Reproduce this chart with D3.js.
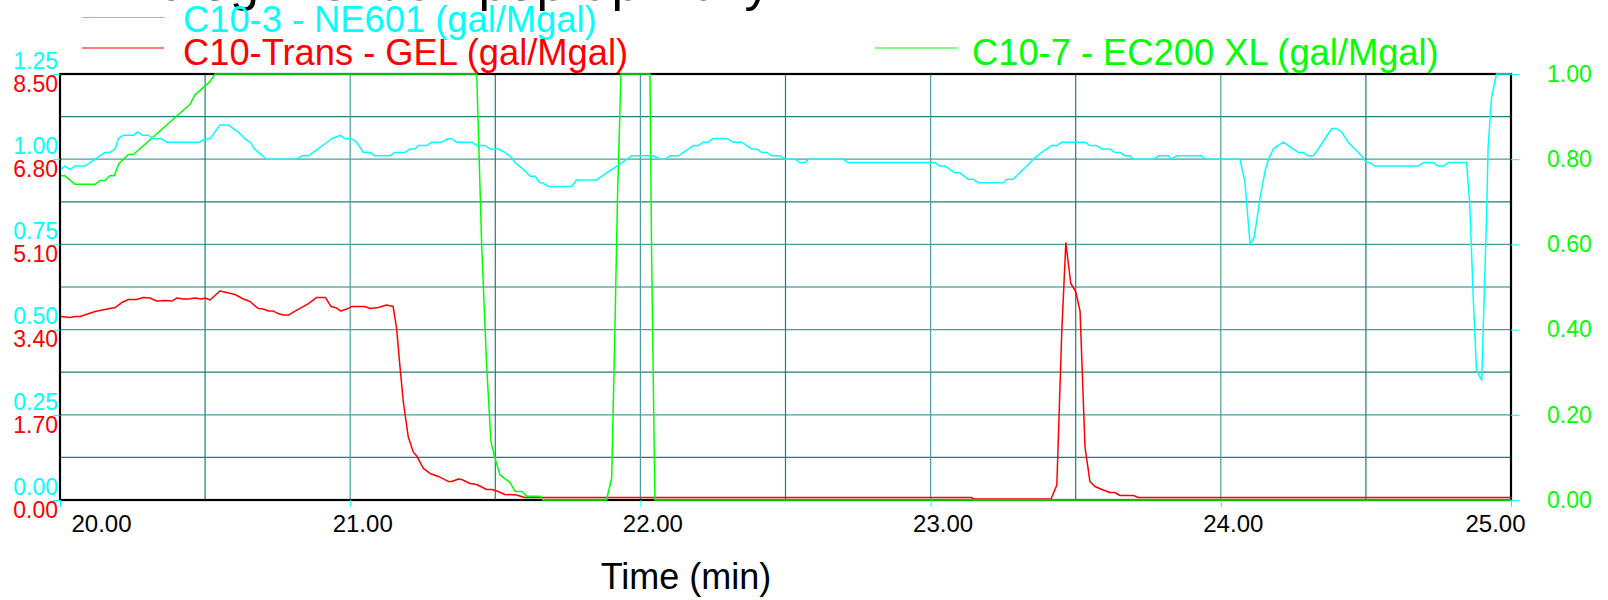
<!DOCTYPE html>
<html>
<head>
<meta charset="utf-8">
<script src="https://cdn.jsdelivr.net/npm/d3@7/dist/d3.min.js"></script>
<style>
  html, body { margin: 0; padding: 0; background: #fff; }
  svg { display: block; font-family: "Liberation Sans", Arial, sans-serif; }
</style>
</head>
<body>
<svg id="chart" width="1608" height="600"></svg>
<script>
// ---------------- DATA ----------------
const titleText = "Analog Trends - pop-up Daily";
const xLabel = "Time (min)";
const seriesNames = ["C10-3 - NE601 (gal/Mgal)", "C10-Trans - GEL (gal/Mgal)", "C10-7 - EC200 XL (gal/Mgal)"];

const xTicks = [20, 21, 22, 23, 24, 25];
const cyanTicks = [0, 0.25, 0.5, 0.75, 1.0, 1.25];
const redTicks = [0, 1.7, 3.4, 5.1, 6.8, 8.5];
const greenTicks = [0, 0.2, 0.4, 0.6, 0.8, 1.0];

// C10-3 - NE601 (cyan, left outer axis 0-1.25)
const cyanTime = [20.003,20.017,20.034,20.052,20.086,20.121,20.155,20.172,20.190,20.201,20.218,20.253,20.268,20.284,20.305,20.322,20.350,20.368,20.482,20.500,20.517,20.551,20.580,20.614,20.637,20.655,20.672,20.712,20.816,20.833,20.856,20.936,20.965,20.982,21.005,21.022,21.045,21.068,21.085,21.137,21.154,21.189,21.206,21.223,21.235,21.264,21.281,21.315,21.338,21.350,21.367,21.419,21.436,21.465,21.482,21.510,21.533,21.556,21.568,21.597,21.620,21.637,21.654,21.665,21.683,21.763,21.780,21.849,21.970,22.044,22.068,22.085,22.102,22.131,22.182,22.200,22.217,22.234,22.251,22.297,22.320,22.349,22.383,22.401,22.418,22.435,22.452,22.481,22.498,22.533,22.550,22.567,22.579,22.699,22.716,23.015,23.032,23.050,23.084,23.101,23.130,23.147,23.164,23.251,23.262,23.285,23.302,23.325,23.331,23.354,23.383,23.417,23.435,23.452,23.532,23.549,23.572,23.590,23.618,23.635,23.653,23.670,23.687,23.699,23.768,23.785,23.819,23.831,23.848,23.934,23.946,24.066,24.083,24.101,24.115,24.135,24.152,24.164,24.181,24.215,24.267,24.284,24.301,24.319,24.336,24.359,24.382,24.399,24.416,24.439,24.462,24.485,24.502,24.514,24.531,24.680,24.698,24.732,24.749,24.767,24.784,24.847,24.858,24.870,24.881,24.899,24.904,24.916,24.921,24.933,24.950,25.000];
const cyanValue = [0.970,0.980,0.970,0.980,0.980,1.000,1.020,1.020,1.030,1.061,1.070,1.070,1.080,1.070,1.070,1.060,1.060,1.050,1.050,1.060,1.060,1.100,1.100,1.080,1.060,1.050,1.029,1.000,1.000,1.010,1.010,1.060,1.070,1.060,1.060,1.050,1.020,1.020,1.010,1.010,1.020,1.020,1.030,1.030,1.040,1.040,1.050,1.050,1.060,1.060,1.050,1.050,1.040,1.040,1.030,1.030,1.020,1.005,0.990,0.970,0.950,0.950,0.931,0.930,0.920,0.920,0.939,0.939,1.010,1.010,1.000,1.000,1.010,1.010,1.040,1.040,1.050,1.050,1.061,1.061,1.050,1.050,1.030,1.030,1.020,1.020,1.010,1.010,1.000,1.000,0.990,0.990,1.000,1.000,0.990,0.990,0.980,0.980,0.960,0.960,0.941,0.941,0.931,0.931,0.941,0.941,0.956,0.975,0.980,1.000,1.020,1.040,1.040,1.050,1.050,1.040,1.040,1.030,1.030,1.020,1.020,1.010,1.010,1.000,1.000,1.010,1.010,1.000,1.010,1.010,1.000,1.000,0.934,0.750,0.770,0.885,0.963,1.000,1.030,1.050,1.020,1.020,1.010,1.010,1.030,1.060,1.090,1.090,1.080,1.050,1.030,1.010,0.990,0.990,0.980,0.980,0.990,0.990,0.980,0.980,0.990,0.990,0.866,0.592,0.381,0.352,0.494,0.836,1.032,1.180,1.250,1.250];

// C10-Trans - GEL (red, left inner axis 0-8.50)
const redTime = [20.003,20.034,20.052,20.069,20.121,20.155,20.190,20.213,20.236,20.264,20.287,20.310,20.333,20.362,20.385,20.402,20.425,20.442,20.465,20.488,20.500,20.517,20.551,20.574,20.603,20.632,20.655,20.683,20.701,20.718,20.735,20.752,20.770,20.787,20.810,20.856,20.884,20.915,20.934,20.953,20.968,20.988,21.005,21.051,21.068,21.097,21.125,21.148,21.160,21.171,21.183,21.200,21.217,21.229,21.252,21.275,21.304,21.338,21.350,21.373,21.384,21.413,21.436,21.470,21.488,21.510,21.533,21.573,21.602,21.671,23.140,23.150,23.415,23.435,23.452,23.466,23.483,23.500,23.515,23.532,23.549,23.566,23.595,23.618,23.635,23.653,23.699,23.716,25.000];
const redValue = [3.66,3.64,3.66,3.66,3.76,3.80,3.84,3.94,4.00,4.00,4.04,4.03,3.97,3.98,3.97,4.03,4.01,4.01,4.03,4.01,4.03,3.99,4.17,4.14,4.10,4.01,3.96,3.82,3.81,3.77,3.77,3.72,3.69,3.69,3.77,3.92,4.04,4.04,3.86,3.83,3.77,3.81,3.86,3.86,3.82,3.84,3.89,3.86,3.42,2.69,1.96,1.26,0.96,0.88,0.63,0.53,0.47,0.37,0.37,0.42,0.41,0.33,0.31,0.21,0.21,0.17,0.11,0.10,0.05,0.05,0.05,0.02,0.02,0.30,3.36,5.13,4.32,4.16,3.77,1.06,0.37,0.27,0.20,0.15,0.15,0.09,0.09,0.05,0.05];

// C10-7 - EC200 XL (green, right axis 0-1.00)
const greenTime = [20.003,20.017,20.052,20.121,20.138,20.155,20.172,20.187,20.203,20.236,20.253,20.448,20.465,20.488,20.517,20.534,21.436,21.453,21.470,21.485,21.499,21.516,21.551,21.568,21.591,21.608,21.654,21.665,21.883,21.901,21.912,21.921,21.933,22.033,22.039,22.050,25.000];
const greenValue = [0.761,0.761,0.741,0.741,0.750,0.750,0.761,0.761,0.790,0.811,0.811,0.929,0.951,0.965,0.982,1.000,1.000,0.599,0.317,0.137,0.098,0.059,0.041,0.020,0.020,0.009,0.009,0.000,0.000,0.051,0.395,0.708,1.000,1.000,0.552,0.000,0.000];

// ---------------- CHART ----------------
(function () {
const svg = d3.select("#chart");
const pL = 60, pR = 1511, pT = 74, pB = 500;
const CYAN = "#00ffff", RED = "#ff0000", GREEN = "#00ff00", GRID = "#1b8080";
const FONT = "Liberation Sans, Arial, sans-serif";

const x = d3.scaleLinear().domain([20, 25]).range([pL, pR]);
const yC = d3.scaleLinear().domain([0, 1.25]).range([pB, pT]);
const yR = d3.scaleLinear().domain([0, 8.5]).range([pB, pT]);
const yG = d3.scaleLinear().domain([0, 1.0]).range([pB, pT]);

// title (mostly clipped at the top edge: only descenders show)
svg.append("text").attr("x", 97).attr("y", 0).attr("font-size", 52).attr("fill", "#000").text(titleText);

// grid
const hGrid = d3.range(1, 10).map(i => i * 0.125);
svg.append("g").selectAll("line").data(hGrid).join("line")
  .attr("x1", pL).attr("x2", pR)
  .attr("y1", d => yC(d)).attr("y2", d => yC(d))
  .attr("stroke", (d, i) => i % 2 === 1 ? "#4c9e9e" : GRID).attr("stroke-width", 1.2);
const vGrid = d3.range(1, 10).map(i => 20 + i * 0.5);
svg.append("g").selectAll("line").data(vGrid).join("line")
  .attr("y1", pT).attr("y2", pB)
  .attr("x1", d => x(d)).attr("x2", d => x(d))
  .attr("stroke", (d, i) => i % 2 === 1 ? "#4c9e9e" : GRID).attr("stroke-width", 1.2);

// frame
svg.append("rect").attr("x", pL).attr("y", pT).attr("width", pR - pL).attr("height", pB - pT)
  .attr("fill", "none").attr("stroke", "#000").attr("stroke-width", 2.2);

// axes
function styleAxis(g) { g.select(".domain").remove(); }

const axC = svg.append("g").attr("transform", `translate(${pL},0)`)
  .call(d3.axisLeft(yC).tickValues(cyanTicks).tickSize(7).tickPadding(2).tickFormat(d3.format(".2f")));
styleAxis(axC);
axC.selectAll("line").attr("stroke", CYAN);
axC.selectAll("text").attr("fill", CYAN).attr("font-size", 23).attr("font-family", FONT)
  .attr("y", -13).attr("x", -2);

const axR = svg.append("g").attr("transform", `translate(${pL},0)`)
  .call(d3.axisLeft(yR).tickValues(redTicks).tickSize(0).tickPadding(2).tickFormat(d3.format(".2f")));
styleAxis(axR);
axR.selectAll("text").attr("fill", RED).attr("font-size", 23).attr("font-family", FONT)
  .attr("y", 10).attr("x", -2);

const axG = svg.append("g").attr("transform", `translate(${pR},0)`)
  .call(d3.axisRight(yG).tickValues(greenTicks).tickSize(8).tickPadding(28).tickFormat(d3.format(".2f")));
styleAxis(axG);
axG.selectAll("line").attr("stroke", CYAN);
axG.selectAll("text").attr("fill", GREEN).attr("font-size", 23).attr("font-family", FONT);

const axX = svg.append("g").attr("transform", `translate(0,${pB})`)
  .call(d3.axisBottom(x).tickValues(xTicks).tickSize(7).tickPadding(8).tickFormat(d3.format(".2f")));
styleAxis(axX);
axX.selectAll("line").attr("stroke", CYAN);
axX.selectAll("text").attr("fill", "#000").attr("font-size", 24).attr("font-family", FONT)
  .attr("x", (d, i, n) => i === 0 ? 41 : (i === n.length - 1 ? -16 : 12));

svg.append("text").attr("x", 686).attr("y", 589).attr("text-anchor", "middle")
  .attr("font-size", 36).attr("fill", "#000").text(xLabel);

// clip for data
svg.append("clipPath").attr("id", "clip").append("rect")
  .attr("x", pL - 1).attr("y", pT - 1).attr("width", pR - pL + 2).attr("height", pB - pT + 2);

const plot = svg.append("g").attr("clip-path", "url(#clip)");
function drawLine(times, values, yScale, color) {
  const data = times.map((t, i) => [t, values[i]]);
  plot.append("path").datum(data)
    .attr("fill", "none").attr("stroke", color).attr("stroke-width", 1.5)
    .attr("stroke-linejoin", "round")
    .attr("d", d3.line().x(d => x(d[0])).y(d => yScale(d[1])));
}
drawLine(redTime, redValue, yR, RED);
drawLine(greenTime, greenValue, yG, GREEN);
drawLine(cyanTime, cyanValue, yC, CYAN);

// legend
const legend = [
  { name: seriesNames[0], color: CYAN, lx: 82, ly: 17.5, tx: 183, ty: 32 },
  { name: seriesNames[1], color: RED, lx: 82, ly: 48, tx: 183, ty: 64.5 },
  { name: seriesNames[2], color: GREEN, lx: 875, ly: 48, tx: 972, ty: 64.5 }
];
const lg = svg.append("g").selectAll("g").data(legend).join("g");
lg.append("line").attr("x1", d => d.lx).attr("x2", d => d.lx + 82)
  .attr("y1", d => d.ly).attr("y2", d => d.ly).attr("stroke", d => d.color).attr("stroke-width", 1.2);
lg.append("text").attr("x", d => d.tx).attr("y", d => d.ty)
  .attr("font-size", 36.3).attr("fill", d => d.color).text(d => d.name);
})();
</script>
</body>
</html>
